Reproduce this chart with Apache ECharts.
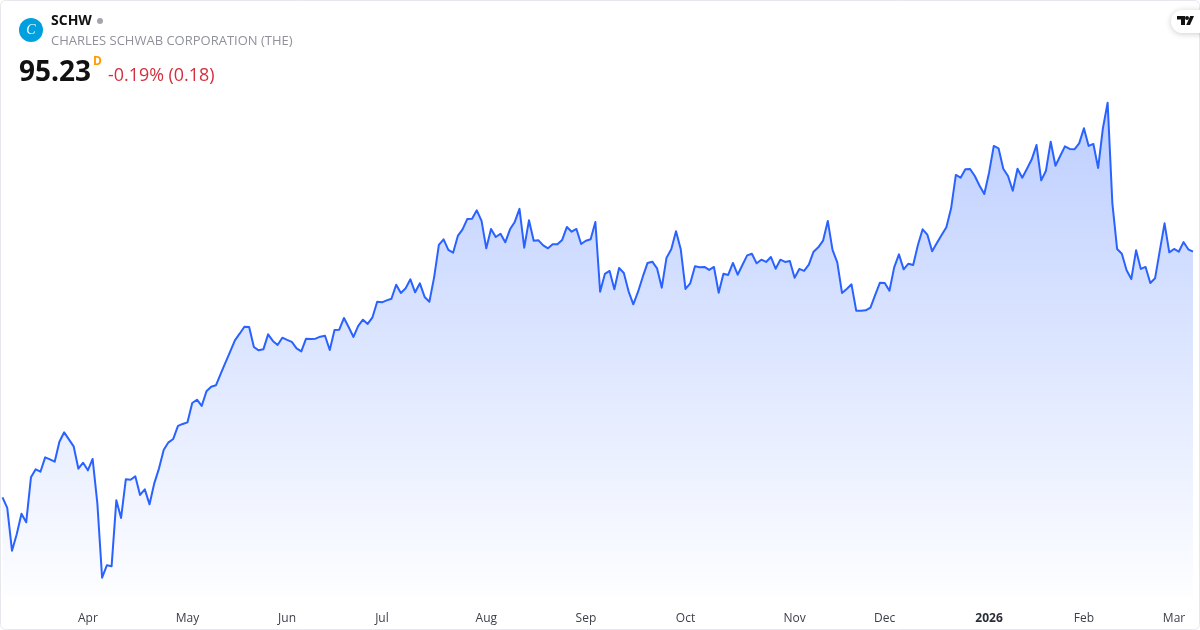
<!DOCTYPE html>
<html>
<head>
<meta charset="utf-8">
<style>html,body{margin:0;padding:0;background:#fff}#c{width:1200px;height:630px}</style>
<script src="https://cdn.jsdelivr.net/npm/echarts@6/dist/echarts.min.js"></script>
</head>
<body>
<div id="c"></div>
<script>
const closes = [
75.58,74.73,71.31,72.62,74.27,73.58,77.18,77.82,77.63,78.78,78.62,78.43,80.03,80.78,80.22,79.66,77.87,78.35,77.74,78.65,
75.10,69.15,70.14,70.06,75.34,73.93,77.02,76.99,77.26,75.77,76.22,75.02,76.70,77.90,79.39,79.98,80.25,81.29,81.45,81.58,
83.13,83.39,82.89,84.06,84.43,84.54,85.45,86.35,87.23,88.14,88.67,89.23,89.21,87.61,87.34,87.42,88.62,88.09,87.77,88.35,
88.17,88.01,87.50,87.26,88.27,88.25,88.27,88.43,88.51,87.37,88.97,88.99,89.93,89.18,88.41,89.29,89.79,89.45,89.98,91.23,
91.18,91.34,91.47,92.59,91.93,92.30,93.02,91.98,92.70,91.61,91.23,93.18,95.77,96.22,95.37,95.15,96.49,97.02,97.85,97.87,
98.54,97.69,95.50,97.05,96.41,96.67,95.98,97.02,97.61,98.66,95.55,97.74,96.11,96.14,95.74,95.50,95.82,95.82,96.17,97.21,
96.83,97.05,95.85,96.11,96.22,97.61,92.03,93.45,93.69,92.22,93.93,93.53,92.06,91.02,92.03,93.23,94.33,94.43,93.90,92.35,
94.75,95.42,96.86,95.42,92.25,92.70,94.06,93.98,94.01,93.77,94.01,91.95,93.47,93.37,94.33,93.39,94.17,94.94,95.07,94.30,
94.59,94.41,94.81,93.87,94.59,94.41,94.49,93.15,93.85,93.69,94.19,95.23,95.58,96.11,97.69,95.37,94.38,91.93,92.25,92.62,
90.51,90.51,90.54,90.75,91.77,92.75,92.73,92.11,93.98,95.02,93.82,94.27,94.17,95.77,97.02,96.59,95.26,95.93,96.57,97.18,
98.70,101.37,101.15,101.82,101.85,101.29,100.51,99.85,101.55,103.69,103.50,101.87,101.29,100.11,101.87,101.15,101.87,102.62,103.77,100.94,
101.71,104.03,102.11,102.89,103.66,103.45,103.42,103.90,105.10,103.69,103.85,101.93,105.10,107.15,99.10,95.45,95.07,93.74,93.05,95.34,
93.85,94.01,92.73,93.10,95.31,97.50,95.18,95.45,95.23,96.00,95.42,95.23
];
const tickLabels = ['Apr','May','Jun','Jul','Aug','Sep','Oct','Nov','Dec','2026','Feb','Mar'];
const tickIndexes = [18,39,60,80,102,123,144,167,186,208,228,247];
const symbol = 'SCHW';
const companyName = 'CHARLES SCHWAB CORPORATION (THE)';
const lastPrice = '95.23';
const priceChange = '-0.19% (0.18)';

const categories = closes.map((_, i) => {
  const k = tickIndexes.indexOf(i);
  return k >= 0 ? tickLabels[k] : '';
});
const FONT = '"Open Sans", sans-serif';
const chart = echarts.init(document.getElementById('c'), null, {renderer: 'canvas'});
chart.setOption({
  animation: false,
  backgroundColor: '#ffffff',
  textStyle: {fontFamily: FONT},
  grid: {left: 2.5, right: 7, top: 0, bottom: 33, containLabel: false},
  xAxis: {
    type: 'category',
    boundaryGap: false,
    data: categories,
    axisLine: {show: false},
    axisTick: {show: false},
    splitLine: {show: false},
    axisLabel: {
      interval: (i) => tickIndexes.indexOf(i) >= 0,
      hideOverlap: false,
      margin: 15,
      fontSize: 12,
      lineHeight: 14,
      color: '#3a3f4a',
      fontFamily: FONT,
      formatter: (v) => v === '2026' ? '{b|2026}' : v,
      rich: {b: {fontWeight: 700, fontSize: 12, color: '#2a2e39', fontFamily: FONT}}
    }
  },
  yAxis: {type: 'value', min: 67.606, max: 115.366, show: false, splitLine: {show: false}},
  series: [{
    type: 'line',
    data: closes,
    showSymbol: false,
    smooth: false,
    lineStyle: {color: '#2962ff', width: 2, join: 'round'},
    itemStyle: {color: '#2962ff'},
    areaStyle: {
      origin: 'start',
      opacity: 1,
      color: new echarts.graphic.LinearGradient(0, 102, 0, 597, [
        {offset: 0, color: 'rgba(41,98,255,0.31)'},
        {offset: 1, color: 'rgba(41,98,255,0.006)'}
      ], true)
    }
  }],
  graphic: [
    {type: 'rect', silent: true, z: 50, shape: {x: 0.5, y: 0.5, width: 1199, height: 629, r: 5}, style: {fill: 'none', stroke: '#e6e8ee', lineWidth: 1}},
    {type: 'circle', z: 60, shape: {cx: 31, cy: 30, r: 12}, style: {fill: '#00a0df'}},
    {type: 'text', z: 61, x: 31, y: 30, style: {text: 'C', fill: '#ffffff', font: 'italic 14px "Liberation Serif", serif', textAlign: 'center', textVerticalAlign: 'middle'}},
    {type: 'text', z: 60, x: 51, y: 21.5, style: {text: symbol, fill: '#111111', font: '700 14px "Open Sans", sans-serif', textAlign: 'left', textVerticalAlign: 'middle'}},
    {type: 'circle', z: 60, shape: {cx: 100, cy: 21, r: 3}, style: {fill: '#a3a6af'}},
    {type: 'text', z: 60, x: 51, y: 41, style: {text: companyName, fill: '#8f929b', font: '13px "Open Sans", sans-serif', textAlign: 'left', textVerticalAlign: 'middle'}},
    {type: 'text', z: 60, x: 19, y: 73.5, style: {text: lastPrice, fill: '#111111', font: '700 28px "Open Sans", sans-serif', textAlign: 'left', textVerticalAlign: 'middle'}},
    {type: 'text', z: 60, x: 93, y: 62, style: {text: 'D', fill: '#ff9800', font: '700 12px "Open Sans", sans-serif', textAlign: 'left', textVerticalAlign: 'middle'}},
    {type: 'text', z: 60, x: 108, y: 76, style: {text: priceChange, fill: '#d32f3f', font: '17.9px "Open Sans", sans-serif', textAlign: 'left', textVerticalAlign: 'middle'}},
    {type: 'rect', z: 70, shape: {x: 1171, y: 10, width: 40, height: 23, r: 11.5}, style: {fill: '#ffffff', shadowBlur: 6, shadowColor: 'rgba(0,0,0,0.2)', shadowOffsetY: 1}},
    {type: 'polygon', z: 71, shape: {points: [[1177,16],[1185,16],[1185,25],[1181,25],[1181,19.6],[1177,19.6]]}, style: {fill: '#111111'}},
    {type: 'polygon', z: 71, shape: {points: [[1190.2,16],[1194,16],[1190,25],[1186.2,25]]}, style: {fill: '#111111'}},
    {type: 'circle', z: 71, shape: {cx: 1187, cy: 18, r: 2}, style: {fill: '#111111'}}
  ]
});
</script>
</body>
</html>
